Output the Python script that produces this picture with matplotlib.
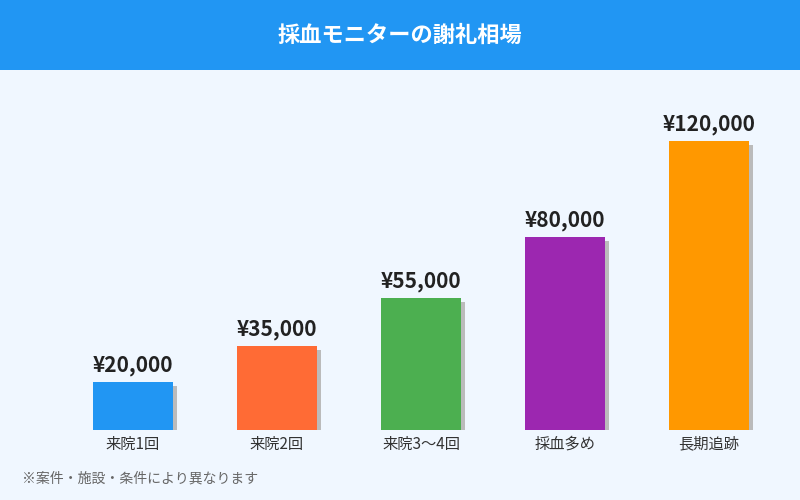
import matplotlib
matplotlib.use('Agg')
import matplotlib.pyplot as plt

plt.rcParams['font.family'] = ['Noto Sans CJK JP', 'DejaVu Sans']

categories = ['来院1回', '来院2回', '来院3〜4回', '採血多め', '長期追跡']
values = [20000, 35000, 55000, 80000, 120000]
colors = ['#2196F3', '#FF6B35', '#4CAF50', '#9C27B0', '#FF9800']

W, H = 800, 500
fig = plt.figure(figsize=(8, 5), dpi=100)
fig.patch.set_facecolor('#F0F7FF')

# header band
hdr = fig.add_axes([0, 1 - 70 / H, 1, 70 / H])
hdr.set_facecolor('#2196F3')
hdr.set_xticks([]); hdr.set_yticks([])
for s in hdr.spines.values():
    s.set_visible(False)
hdr.text(0.5, 0.5, '採血モニターの謝礼相場', color='white', fontsize=16,
         fontweight='bold', ha='center', va='center')

# plot area: baseline at y=430px, 144px per slot starting at x=61
ymax = 140000
ax = fig.add_axes([61 / W, 70 / H, 720 / W, (ymax * 289 / 120000) / H])
ax.set_facecolor('none')
ax.set_xlim(-0.5, 4.5)
ax.set_ylim(0, ymax)
for s in ax.spines.values():
    s.set_visible(False)
ax.set_yticks([])
ax.set_xticks(range(len(categories)))
ax.set_xticklabels(categories, fontsize=11, color='#333333')
ax.tick_params(axis='x', length=0, pad=4)

x = list(range(len(categories)))
bw = 80 / 144
dx = 4 / 144
dy = 4 * 120000 / 289
ax.bar([i + dx for i in x], [v - dy for v in values], width=bw, bottom=0,
       color='#BBBBBB', zorder=1)
ax.bar(x, values, width=bw, color=colors, zorder=2)
for i, v in zip(x, values):
    ax.text(i, v + 2500, f'¥{v:,}', ha='center', va='bottom', fontsize=15,
            fontweight='bold', color='#222222')

fig.text(22 / W, 1 - 478 / H, '※案件・施設・条件により異なります', fontsize=10,
         color='#666666', ha='left', va='center')

fig.savefig('out.png', dpi=100, facecolor=fig.get_facecolor())
